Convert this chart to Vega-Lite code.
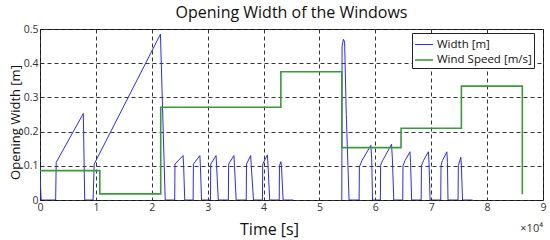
{
  "$schema": "https://vega.github.io/schema/vega-lite/v6.json",
  "width": 503,
  "height": 171,
  "autosize": {"type": "none"},
  "padding": {"left": 40, "top": 29, "right": 7, "bottom": 40},
  "background": "white",
  "title": {
    "text": "Opening Width of the Windows",
    "font": "Open Sans",
    "fontSize": 16,
    "fontWeight": "normal",
    "color": "#111",
    "frame": "group",
    "anchor": "middle",
    "baseline": "alphabetic",
    "offset": -10
  },
  "config": {
    "view": {"stroke": "#333", "strokeWidth": 1},
    "axis": {
      "domain": false,
      "ticks": false,
      "grid": true,
      "gridColor": "#111",
      "gridDash": [4, 3],
      "gridWidth": 1,
      "gridOpacity": 0.85,
      "labelFont": "Open Sans",
      "labelFontSize": 10.5,
      "labelColor": "#333",
      "labelOverlap": false,
      "labelFlush": false,
      "labelBound": false,
      "titleFont": "Open Sans",
      "titleFontWeight": "normal",
      "titleColor": "#111"
    }
  },
  "datasets": {
    "series": [
      {"s": "Width [m]", "g": "A", "i": 1, "t": 0, "v": 0.08},
      {"s": "Width [m]", "g": "A", "i": 2, "t": 0.02, "v": 0},
      {"s": "Width [m]", "g": "A", "i": 3, "t": 0.28, "v": 0},
      {"s": "Width [m]", "g": "A", "i": 4, "t": 0.29, "v": 0.11},
      {"s": "Width [m]", "g": "A", "i": 5, "t": 0.775, "v": 0.253},
      {"s": "Width [m]", "g": "A", "i": 6, "t": 0.8, "v": 0},
      {"s": "Width [m]", "g": "A", "i": 7, "t": 0.95, "v": 0},
      {"s": "Width [m]", "g": "A", "i": 8, "t": 0.97, "v": 0.105},
      {"s": "Width [m]", "g": "A", "i": 9, "t": 2.155, "v": 0.485},
      {"s": "Width [m]", "g": "A", "i": 10, "t": 2.24, "v": 0},
      {"s": "Width [m]", "g": "A", "i": 11, "t": 2.41, "v": 0},
      {"s": "Width [m]", "g": "A", "i": 12, "t": 2.415, "v": 0.105},
      {"s": "Width [m]", "g": "A", "i": 13, "t": 2.56, "v": 0.13},
      {"s": "Width [m]", "g": "A", "i": 14, "t": 2.57, "v": 0.1},
      {"s": "Width [m]", "g": "A", "i": 15, "t": 2.59, "v": 0},
      {"s": "Width [m]", "g": "A", "i": 16, "t": 2.74, "v": 0},
      {"s": "Width [m]", "g": "A", "i": 17, "t": 2.745, "v": 0.105},
      {"s": "Width [m]", "g": "A", "i": 18, "t": 2.86, "v": 0.13},
      {"s": "Width [m]", "g": "A", "i": 19, "t": 2.87, "v": 0.1},
      {"s": "Width [m]", "g": "A", "i": 20, "t": 2.89, "v": 0},
      {"s": "Width [m]", "g": "A", "i": 21, "t": 3.05, "v": 0},
      {"s": "Width [m]", "g": "A", "i": 22, "t": 3.055, "v": 0.105},
      {"s": "Width [m]", "g": "A", "i": 23, "t": 3.15, "v": 0.13},
      {"s": "Width [m]", "g": "A", "i": 24, "t": 3.16, "v": 0.1},
      {"s": "Width [m]", "g": "A", "i": 25, "t": 3.19, "v": 0},
      {"s": "Width [m]", "g": "A", "i": 26, "t": 3.37, "v": 0},
      {"s": "Width [m]", "g": "A", "i": 27, "t": 3.375, "v": 0.105},
      {"s": "Width [m]", "g": "A", "i": 28, "t": 3.47, "v": 0.13},
      {"s": "Width [m]", "g": "A", "i": 29, "t": 3.48, "v": 0.1},
      {"s": "Width [m]", "g": "A", "i": 30, "t": 3.51, "v": 0},
      {"s": "Width [m]", "g": "A", "i": 31, "t": 3.69, "v": 0},
      {"s": "Width [m]", "g": "A", "i": 32, "t": 3.695, "v": 0.105},
      {"s": "Width [m]", "g": "A", "i": 33, "t": 3.77, "v": 0.13},
      {"s": "Width [m]", "g": "A", "i": 34, "t": 3.78, "v": 0.1},
      {"s": "Width [m]", "g": "A", "i": 35, "t": 3.82, "v": 0},
      {"s": "Width [m]", "g": "A", "i": 36, "t": 3.98, "v": 0},
      {"s": "Width [m]", "g": "A", "i": 37, "t": 3.985, "v": 0.105},
      {"s": "Width [m]", "g": "A", "i": 38, "t": 4.07, "v": 0.132},
      {"s": "Width [m]", "g": "A", "i": 39, "t": 4.08, "v": 0.1},
      {"s": "Width [m]", "g": "A", "i": 40, "t": 4.11, "v": 0},
      {"s": "Width [m]", "g": "A", "i": 41, "t": 4.28, "v": 0},
      {"s": "Width [m]", "g": "A", "i": 42, "t": 4.285, "v": 0.1},
      {"s": "Width [m]", "g": "A", "i": 43, "t": 4.31, "v": 0.112},
      {"s": "Width [m]", "g": "A", "i": 44, "t": 4.32, "v": 0.1},
      {"s": "Width [m]", "g": "A", "i": 45, "t": 4.35, "v": 0},
      {"s": "Width [m]", "g": "A", "i": 46, "t": 4.53, "v": 0},
      {"s": "Width [m]", "g": "B", "i": 47, "t": 5.4, "v": 0},
      {"s": "Width [m]", "g": "B", "i": 48, "t": 5.405, "v": 0.45},
      {"s": "Width [m]", "g": "B", "i": 49, "t": 5.43, "v": 0.47},
      {"s": "Width [m]", "g": "B", "i": 50, "t": 5.45, "v": 0.462},
      {"s": "Width [m]", "g": "B", "i": 51, "t": 5.48, "v": 0.25},
      {"s": "Width [m]", "g": "B", "i": 52, "t": 5.53, "v": 0},
      {"s": "Width [m]", "g": "B", "i": 53, "t": 5.71, "v": 0},
      {"s": "Width [m]", "g": "B", "i": 54, "t": 5.715, "v": 0.097},
      {"s": "Width [m]", "g": "B", "i": 55, "t": 5.76, "v": 0.115},
      {"s": "Width [m]", "g": "B", "i": 56, "t": 5.92, "v": 0.16},
      {"s": "Width [m]", "g": "B", "i": 57, "t": 5.935, "v": 0.12},
      {"s": "Width [m]", "g": "B", "i": 58, "t": 5.95, "v": 0},
      {"s": "Width [m]", "g": "B", "i": 59, "t": 6.09, "v": 0},
      {"s": "Width [m]", "g": "B", "i": 60, "t": 6.095, "v": 0.102},
      {"s": "Width [m]", "g": "B", "i": 61, "t": 6.13, "v": 0.115},
      {"s": "Width [m]", "g": "B", "i": 62, "t": 6.29, "v": 0.163},
      {"s": "Width [m]", "g": "B", "i": 63, "t": 6.305, "v": 0.12},
      {"s": "Width [m]", "g": "B", "i": 64, "t": 6.33, "v": 0},
      {"s": "Width [m]", "g": "B", "i": 65, "t": 6.49, "v": 0},
      {"s": "Width [m]", "g": "B", "i": 66, "t": 6.495, "v": 0.1},
      {"s": "Width [m]", "g": "B", "i": 67, "t": 6.53, "v": 0.115},
      {"s": "Width [m]", "g": "B", "i": 68, "t": 6.62, "v": 0.141},
      {"s": "Width [m]", "g": "B", "i": 69, "t": 6.63, "v": 0.11},
      {"s": "Width [m]", "g": "B", "i": 70, "t": 6.65, "v": 0},
      {"s": "Width [m]", "g": "B", "i": 71, "t": 6.82, "v": 0},
      {"s": "Width [m]", "g": "B", "i": 72, "t": 6.825, "v": 0.1},
      {"s": "Width [m]", "g": "B", "i": 73, "t": 6.86, "v": 0.115},
      {"s": "Width [m]", "g": "B", "i": 74, "t": 6.95, "v": 0.141},
      {"s": "Width [m]", "g": "B", "i": 75, "t": 6.96, "v": 0.11},
      {"s": "Width [m]", "g": "B", "i": 76, "t": 6.98, "v": 0},
      {"s": "Width [m]", "g": "B", "i": 77, "t": 7.17, "v": 0},
      {"s": "Width [m]", "g": "B", "i": 78, "t": 7.175, "v": 0.1},
      {"s": "Width [m]", "g": "B", "i": 79, "t": 7.2, "v": 0.115},
      {"s": "Width [m]", "g": "B", "i": 80, "t": 7.28, "v": 0.141},
      {"s": "Width [m]", "g": "B", "i": 81, "t": 7.29, "v": 0.11},
      {"s": "Width [m]", "g": "B", "i": 82, "t": 7.3, "v": 0},
      {"s": "Width [m]", "g": "B", "i": 83, "t": 7.48, "v": 0},
      {"s": "Width [m]", "g": "B", "i": 84, "t": 7.485, "v": 0.1},
      {"s": "Width [m]", "g": "B", "i": 85, "t": 7.53, "v": 0.125},
      {"s": "Width [m]", "g": "B", "i": 86, "t": 7.54, "v": 0.1},
      {"s": "Width [m]", "g": "B", "i": 87, "t": 7.56, "v": 0},
      {"s": "Width [m]", "g": "B", "i": 88, "t": 7.74, "v": 0},
      {"s": "Wind Speed [m/s]", "g": "C", "i": 101, "t": 0, "v": 0.086},
      {"s": "Wind Speed [m/s]", "g": "C", "i": 102, "t": 1.07, "v": 0.086},
      {"s": "Wind Speed [m/s]", "g": "C", "i": 103, "t": 1.07, "v": 0.018},
      {"s": "Wind Speed [m/s]", "g": "C", "i": 104, "t": 2.16, "v": 0.018},
      {"s": "Wind Speed [m/s]", "g": "C", "i": 105, "t": 2.16, "v": 0.271},
      {"s": "Wind Speed [m/s]", "g": "C", "i": 106, "t": 4.31, "v": 0.271},
      {"s": "Wind Speed [m/s]", "g": "C", "i": 107, "t": 4.31, "v": 0.375},
      {"s": "Wind Speed [m/s]", "g": "C", "i": 108, "t": 5.4, "v": 0.375},
      {"s": "Wind Speed [m/s]", "g": "C", "i": 109, "t": 5.4, "v": 0.153},
      {"s": "Wind Speed [m/s]", "g": "C", "i": 110, "t": 6.46, "v": 0.153},
      {"s": "Wind Speed [m/s]", "g": "C", "i": 111, "t": 6.46, "v": 0.21},
      {"s": "Wind Speed [m/s]", "g": "C", "i": 112, "t": 7.54, "v": 0.21},
      {"s": "Wind Speed [m/s]", "g": "C", "i": 113, "t": 7.54, "v": 0.333},
      {"s": "Wind Speed [m/s]", "g": "C", "i": 114, "t": 8.63, "v": 0.333},
      {"s": "Wind Speed [m/s]", "g": "C", "i": 115, "t": 8.63, "v": 0.017}
    ],
    "note": [{"label": "×10⁴"}]
  },
  "layer": [
    {
      "data": {"name": "series"},
      "mark": {"type": "line", "clip": true},
      "encoding": {
        "x": {
          "field": "t",
          "type": "quantitative",
          "scale": {"domain": [0, 9], "nice": false, "zero": false},
          "axis": {
            "values": [0, 1, 2, 3, 4, 5, 6, 7, 8, 9],
            "format": "d",
            "labelPadding": 2,
            "title": "Time [s]",
            "titleFontSize": 16,
            "titleX": 229,
            "titleY": 34,
            "titleBaseline": "alphabetic",
            "titleAlign": "center"
          }
        },
        "y": {
          "field": "v",
          "type": "quantitative",
          "scale": {"domain": [0, 0.5], "nice": false},
          "axis": {
            "values": [0, 0.1, 0.2, 0.3, 0.4, 0.5],
            "tickCount": 6,
            "labelExpr": "datum.value == 0 ? '0' : format(datum.value, '.1f')",
            "labelPadding": 2,
            "title": "Opening Width [m]",
            "titleFontSize": 13,
            "titleX": -21,
            "titleY": 93,
            "titleAngle": -90,
            "titleBaseline": "alphabetic",
            "titleAlign": "center"
          }
        },
        "color": {
          "field": "s",
          "type": "nominal",
          "scale": {"domain": ["Width [m]", "Wind Speed [m/s]"], "range": ["#2a2aff", "#3a9a3a"]},
          "legend": {
            "title": null,
            "orient": "none",
            "legendX": 372,
            "legendY": 4,
            "symbolType": "stroke",
            "symbolSize": 324,
            "symbolStrokeWidth": 1.5,
            "labelFont": "Open Sans",
            "labelFontSize": 11.5,
            "labelColor": "#111",
            "labelOffset": 3,
            "rowPadding": -2,
            "padding": 2,
            "fillColor": "white",
            "strokeColor": "#222",
            "cornerRadius": 0
          }
        },
        "strokeWidth": {
          "field": "s",
          "type": "nominal",
          "scale": {"domain": ["Width [m]", "Wind Speed [m/s]"], "range": [1, 1.6]},
          "legend": null
        },
        "detail": {"field": "g"},
        "order": {"field": "i", "type": "quantitative"}
      }
    },
    {
      "data": {"name": "note"},
      "mark": {"type": "text", "align": "right", "baseline": "alphabetic", "yOffset": 32, "font": "Open Sans", "fontSize": 11, "color": "#333"},
      "encoding": {
        "x": {"datum": 9, "type": "quantitative", "axis": {
            "values": [0, 1, 2, 3, 4, 5, 6, 7, 8, 9],
            "format": "d",
            "labelPadding": 2,
            "title": "Time [s]",
            "titleFontSize": 16,
            "titleX": 229,
            "titleY": 34,
            "titleBaseline": "alphabetic",
            "titleAlign": "center"
          }},
        "y": {"datum": 0, "type": "quantitative", "axis": {
            "values": [0, 0.1, 0.2, 0.3, 0.4, 0.5],
            "tickCount": 6,
            "labelExpr": "datum.value == 0 ? '0' : format(datum.value, '.1f')",
            "labelPadding": 2,
            "title": "Opening Width [m]",
            "titleFontSize": 13,
            "titleX": -21,
            "titleY": 93,
            "titleAngle": -90,
            "titleBaseline": "alphabetic",
            "titleAlign": "center"
          }},
        "text": {"field": "label"}
      }
    }
  ]
}
